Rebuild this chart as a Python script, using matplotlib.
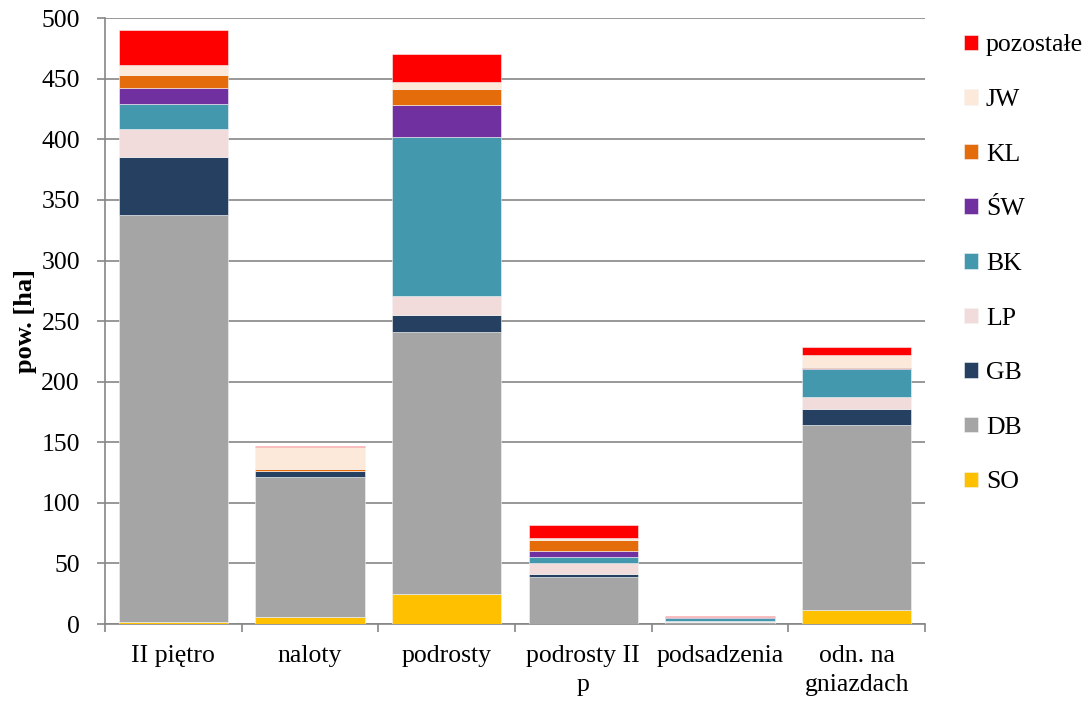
import matplotlib
matplotlib.use('Agg')
import matplotlib.pyplot as plt
import numpy as np

plt.rcParams['font.family'] = ['Liberation Serif', 'DejaVu Serif']
plt.rcParams['font.size'] = 18.5

categories = ['II piętro', 'naloty', 'podrosty', 'podrosty II\np', 'podsadzenia', 'odn. na\ngniazdach']
species = ['SO', 'DB', 'GB', 'LP', 'BK', 'ŚW', 'KL', 'JW', 'pozostałe']

SO = [2, 5.5, 25, 0.3, 0.2, 11.5]
DB = [335.5, 116, 216, 38.5, 1.5, 152.5]
GB = [48, 4.5, 14.5, 2.2, 0.3, 13.5]
LP = [23, 0.3, 15.5, 9, 0.3, 10]
BK = [21, 0, 131, 5, 3, 23]
SW = [13, 0, 26, 5.5, 0.2, 0.8]
KL = [11, 2, 14, 9, 0.3, 0.5]
JW = [8, 17.5, 5, 1.5, 0.2, 10]
pozostale = [28.5, 1.5, 23.5, 10.7, 0.5, 6.5]

series = [SO, DB, GB, LP, BK, SW, KL, JW, pozostale]
colors = ['#FFC000', '#A5A5A5', '#254061', '#F2DCDB', '#4398AE',
          '#7030A0', '#E46C0A', '#FDE9D9', '#FF0000']

fig = plt.figure(figsize=(10.89, 7.02), dpi=100)
ax = fig.add_axes([0.0964, 0.111, 0.753, 0.863])

x = np.arange(len(categories))
bottom = np.zeros(len(categories))
handles = []
for vals, col, name in zip(series, colors, species):
    b = ax.bar(x, vals, 0.8, bottom=bottom, color=col, edgecolor='#F4F4F4',
               linewidth=0.4, label=name, zorder=3)
    handles.append(b)
    bottom += np.array(vals)

ax.set_ylim(0, 500)
ax.set_xlim(-0.5, len(categories) - 0.5)
ax.set_yticks(np.arange(0, 501, 50))
ax.yaxis.grid(True, color='#868686', linewidth=1.2, zorder=0)
ax.set_axisbelow(True)

ax.set_xticks(x)
ax.set_xticklabels(categories, linespacing=1.4)
ax.set_xticks(np.arange(-0.5, len(categories), 1), minor=True)
ax.tick_params(axis='x', which='major', length=0, pad=15)
ax.tick_params(axis='x', which='minor', length=6, color='#868686', width=1.2)
ax.tick_params(axis='y', length=6, color='#868686', width=1.2, pad=12)

for s in ['top', 'right']:
    ax.spines[s].set_visible(False)
for s in ['left', 'bottom']:
    ax.spines[s].set_color('#868686')
    ax.spines[s].set_linewidth(1.2)

ax.set_ylabel('pow. [ha]', fontweight='bold', fontsize=19, labelpad=3)

fig.legend(handles[::-1], species[::-1], loc='upper left',
           bbox_to_anchor=(0.864, 0.984), frameon=False,
           handlelength=0.55, handleheight=0.55, handletextpad=0.3,
           labelspacing=1.27)

fig.savefig('out.png', dpi=100)
